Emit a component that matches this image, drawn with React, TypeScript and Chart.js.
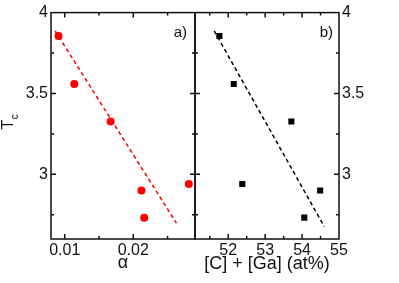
import React, { useEffect, useRef } from "react";
import { Chart, registerables } from "chart.js";

Chart.register(...registerables);

// ---- data ----
const alphaValues = [0.0091, 0.0114, 0.0167, 0.0212, 0.0216, 0.0281];
const tcLeft = [3.855, 3.558, 3.327, 2.9, 2.732, 2.94];
const cgaValues = [51.76, 52.15, 53.71, 52.38, 54.49, 54.06];
const tcRight = [3.855, 3.558, 3.327, 2.94, 2.9, 2.732];
const fitAlphaX = [0.0086, 0.0263];
const fitAlphaY = [3.887, 2.698];
const fitCgaX = [51.62, 54.6];
const fitCgaY = [3.887, 2.677];
const yTicks = [3, 3.5, 4];
const yMinorTicks = [2.75, 3.25, 3.75];
const alphaTicks = [0.01, 0.02];
const alphaMinorTicks = [0.015, 0.025];
const cgaTicks = [52, 53, 54, 55];
const cgaMinorTicks = [51.5, 52.5, 53.5, 54.5];

const FONT = "'Liberation Sans', Arial, Helvetica, sans-serif";
const W = 399;
const H = 283;

const framePlugin = {
  id: "frame",
  afterDraw(chart: any, _args: any, opts: any) {
    const { ctx, chartArea: a, scales } = chart;
    const xs = scales.x;
    const ys = scales[opts.yId];
    ctx.save();
    ctx.strokeStyle = "#111";
    ctx.lineWidth = 1.5;
    ctx.strokeRect(a.left, a.top, a.right - a.left, a.bottom - a.top);
    const major = 5;
    const minor = 3;
    const drawX = (vals: number[], len: number) => {
      vals.forEach((v) => {
        const px = xs.getPixelForValue(v);
        if (px <= a.left + 0.5 || px >= a.right - 0.5) return;
        ctx.beginPath();
        ctx.moveTo(px, a.bottom);
        ctx.lineTo(px, a.bottom - len);
        ctx.moveTo(px, a.top);
        ctx.lineTo(px, a.top + len);
        ctx.stroke();
      });
    };
    const drawY = (vals: number[], len: number) => {
      vals.forEach((v) => {
        const py = ys.getPixelForValue(v);
        if (py <= a.top + 0.5 || py >= a.bottom - 0.5) return;
        ctx.beginPath();
        ctx.moveTo(a.left, py);
        ctx.lineTo(a.left + len, py);
        ctx.moveTo(a.right, py);
        ctx.lineTo(a.right - len, py);
        ctx.stroke();
      });
    };
    drawX(opts.xMajor, major);
    drawX(opts.xMinor, minor);
    drawY(yTicks, major);
    drawY(yMinorTicks, minor);
    // panel label
    ctx.fillStyle = "#111";
    ctx.font = `15px ${FONT}`;
    ctx.textAlign = "right";
    ctx.textBaseline = "middle";
    ctx.fillText(opts.label, a.right - opts.labelInset, a.top + 20);
    // y title T_c
    if (opts.yTitle) {
      ctx.translate(13.3, 129.5);
      ctx.rotate(-Math.PI / 2);
      ctx.textAlign = "left";
      ctx.textBaseline = "alphabetic";
      ctx.font = `16px ${FONT}`;
      ctx.fillText("T", 0, 0);
      const tw = ctx.measureText("T").width;
      ctx.font = `10px ${FONT}`;
      ctx.fillText("c", tw + 0.5, 5);
    }
    ctx.restore();
  },
};

function makeConfig(side: "left" | "right"): any {
  const isLeft = side === "left";
  const color = isLeft ? "#ff0000" : "#000000";
  const xVals = isLeft ? alphaValues : cgaValues;
  const yVals = isLeft ? tcLeft : tcRight;
  const fx = isLeft ? fitAlphaX : fitCgaX;
  const fy = isLeft ? fitAlphaY : fitCgaY;
  const yId = isLeft ? "y" : "y2";
  return {
    type: "scatter",
    data: {
      datasets: [
        {
          data: fx.map((x, i) => ({ x, y: fy[i] })),
          showLine: true,
          borderColor: color,
          borderWidth: 1.5,
          borderDash: [4, 3],
          pointRadius: 0,
          yAxisID: yId,
        },
        {
          data: xVals.map((x, i) => ({ x, y: yVals[i] })),
          showLine: false,
          backgroundColor: color,
          borderColor: color,
          borderWidth: 0,
          pointStyle: isLeft ? "circle" : "rect",
          pointRadius: isLeft ? 4 : 4.3,
          yAxisID: yId,
        },
      ],
    },
    options: {
      responsive: false,
      animation: false,
      events: [],
      layout: {
        padding: isLeft
          ? { left: 0, right: W - 195, top: 5, bottom: 0 }
          : { left: 195, right: 0, top: 5, bottom: 0 },
      },
      plugins: {
        legend: { display: false },
        tooltip: { enabled: false },
        frame: {
          yId,
          xMajor: isLeft ? alphaTicks : cgaTicks,
          xMinor: isLeft ? alphaMinorTicks : cgaMinorTicks,
          label: isLeft ? "a)" : "b)",
          labelInset: isLeft ? 8 : 6,
          yTitle: isLeft,
        },
      },
      scales: {
        x: {
          type: "linear",
          position: "bottom",
          min: isLeft ? 0.008 : 51.1,
          max: isLeft ? 0.029 : 55,
          afterBuildTicks: (s: any) => {
            s.ticks = (isLeft ? alphaTicks : cgaTicks).map((v) => ({ value: v }));
          },
          afterFit: (s: any) => {
            s.height = 44;
          },
          grid: { display: false, drawTicks: false },
          border: { display: false },
          ticks: {
            color: "#111",
            font: { family: FONT, size: 16 },
            padding: 2,
            maxRotation: 0,
            autoSkip: false,
            callback: (v: any) => String(v),
          },
          title: {
            display: true,
            text: isLeft ? "α" : "[C] + [Ga] (at%)",
            color: "#111",
            font: { family: FONT, size: 18 },
            padding: { top: 0, bottom: isLeft ? 9 : 8 },
          },
        },
        [yId]: {
          type: "linear",
          position: isLeft ? "left" : "right",
          min: 2.6,
          max: 4,
          afterBuildTicks: (s: any) => {
            s.ticks = yTicks.map((v) => ({ value: v }));
          },
          afterFit: (s: any) => {
            s.width = isLeft ? 51 : W - 339;
          },
          grid: { display: false, drawTicks: false },
          border: { display: false },
          ticks: {
            color: "#111",
            font: { family: FONT, size: 16 },
            padding: 3,
            autoSkip: false,
            callback: (v: any) => String(v),
          },
        },
      },
    },
    plugins: [framePlugin],
  };
}

function Panel({ side }: { side: "left" | "right" }) {
  const ref = useRef<HTMLCanvasElement | null>(null);
  useEffect(() => {
    if (!ref.current) return;
    const chart = new Chart(ref.current, makeConfig(side));
    return () => chart.destroy();
  }, [side]);
  return (
    <canvas
      ref={ref}
      width={W}
      height={H}
      style={{ position: "absolute", left: 0, top: 0, width: W, height: H }}
    />
  );
}

export default function App() {
  return (
    <div
      style={{
        position: "fixed",
        left: 0,
        top: 0,
        width: W,
        height: H,
        background: "#ffffff",
      }}
    >
      <Panel side="left" />
      <Panel side="right" />
    </div>
  );
}
